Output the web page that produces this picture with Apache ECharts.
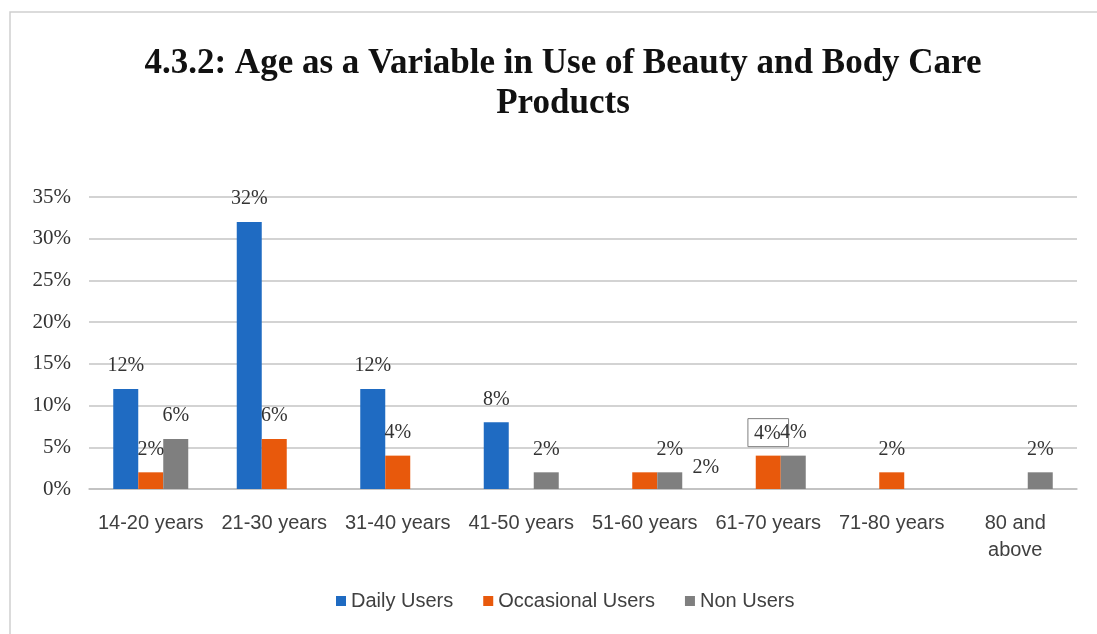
<!DOCTYPE html>
<html>
<head>
<meta charset="utf-8">
<script src="https://cdn.jsdelivr.net/npm/echarts@6/dist/echarts.min.js"></script>
<style>
html,body{margin:0;padding:0;background:#fff;}
#chart{width:1097px;height:634px;}
</style>
</head>
<body>
<div id="chart"></div>
<script>
const titleText = '4.3.2: Age as a Variable in Use of Beauty and Body Care\nProducts';
const categories = ['14-20 years','21-30 years','31-40 years','41-50 years','51-60 years','61-70 years','71-80 years','80 and above'];
const dailyUsers = [12, 32, 12, 8, 0, 0, 0, 0];
const occasionalUsers = [2, 6, 4, 0, 2, 4, 2, 0];
const nonUsers = [6, 0, 0, 2, 2, 4, 0, 2];
const seriesNames = ['Daily Users','Occasional Users','Non Users'];
const yTicks = [0, 5, 10, 15, 20, 25, 30, 35];

const colors = ['#1F6BC2', '#E8590C', '#7F7F7F'];
const serif = '"Liberation Serif", "Times New Roman", serif';
const sans = '"Liberation Sans", Arial, sans-serif';

const chart = echarts.init(document.getElementById('chart'), null, {renderer: 'canvas'});

const baseLabel = {
  show: true,
  position: 'top',
  distance: 13,
  fontFamily: serif,
  fontSize: 20,
  color: '#333333',
  formatter: p => (p.value ? p.value + '%' : '')
};

function makeData(arr, specials) {
  return arr.map((v, i) => {
    if (specials && specials[i]) return {value: v, label: specials[i]};
    return v;
  });
}

const option = {
  animation: false,
  backgroundColor: '#fff',
  color: colors,
  graphic: [{
    type: 'polyline',
    shape: {points: [[10, 640], [10, 12], [1100, 12]]},
    style: {stroke: '#cfcfcf', lineWidth: 1.5, fill: null},
    silent: true
  }],
  title: {
    text: titleText,
    left: 558,
    textAlign: 'center',
    top: 39,
    textStyle: {
      fontFamily: serif,
      fontWeight: 'bold',
      fontSize: 35,
      lineHeight: 40,
      color: '#111111'
    }
  },
  legend: {
    data: seriesNames,
    bottom: 18,
    left: 331,
    itemWidth: 10,
    itemHeight: 10,
    itemGap: 30,
    icon: 'rect',
    textStyle: {fontFamily: sans, fontSize: 20, color: '#404040'}
  },
  grid: {left: 89, right: 20, top: 197, bottom: 145},
  xAxis: {
    type: 'category',
    data: categories,
    axisTick: {show: false},
    axisLine: {show: true, lineStyle: {color: '#bfbfbf', width: 1.5}},
    axisLabel: {
      interval: 0,
      margin: 21,
      fontFamily: sans,
      fontSize: 20,
      lineHeight: 27,
      color: '#404040',
      formatter: v => v.replace('80 and ', '80 and\n')
    }
  },
  yAxis: {
    type: 'value',
    min: 0,
    max: 35,
    interval: 5,
    axisLine: {show: false},
    axisTick: {show: false},
    splitLine: {lineStyle: {color: '#c4c4c4', width: 1.5}},
    axisLabel: {
      margin: 18,
      fontFamily: serif,
      fontSize: 21,
      color: '#333333',
      formatter: v => (yTicks.includes(v) ? v + '%' : '')
    }
  },
  series: [
    {
      name: seriesNames[0], type: 'bar', barWidth: 25, barGap: '0%',
      data: makeData(dailyUsers),
      label: baseLabel
    },
    {
      name: seriesNames[1], type: 'bar', barWidth: 25, barGap: '0%',
      data: makeData(occasionalUsers, {
        4: {offset: [61, 18]},
        5: {borderColor: '#7f7f7f', borderWidth: 1, padding: [5, 8, 3, 6], distance: 9}
      }),
      label: baseLabel
    },
    {
      name: seriesNames[2], type: 'bar', barWidth: 25, barGap: '0%',
      data: makeData(nonUsers),
      label: baseLabel
    }
  ]
};
chart.setOption(option);
</script>
</body>
</html>
